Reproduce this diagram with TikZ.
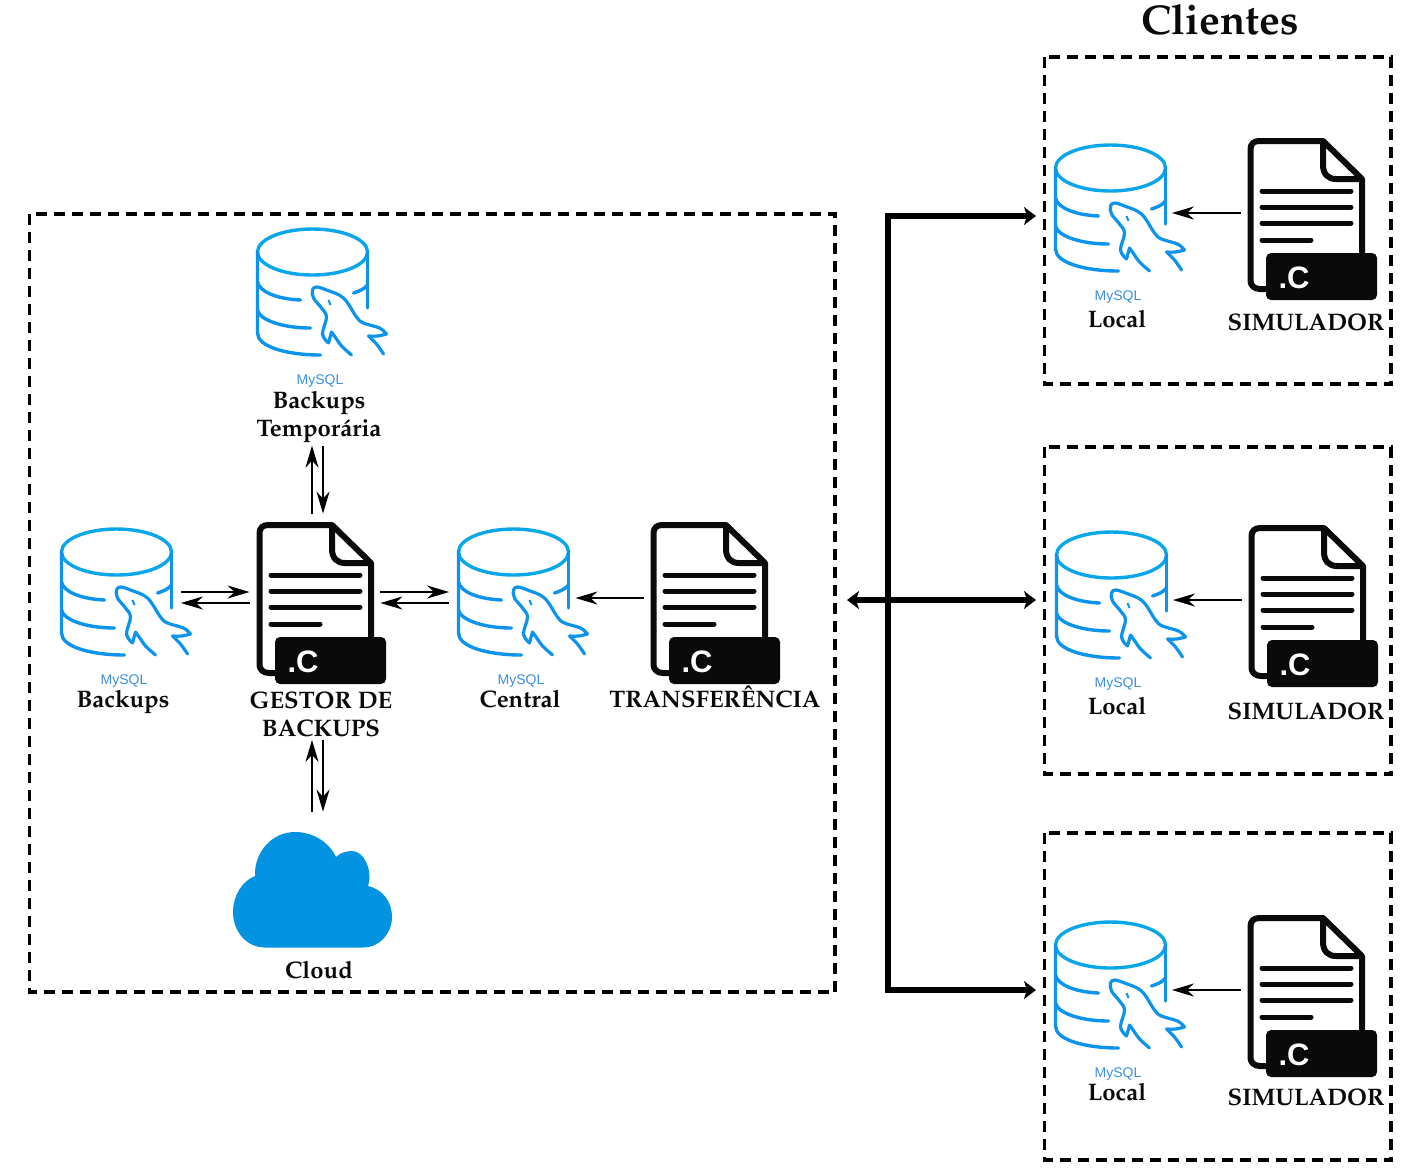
\documentclass[tikz,border=0pt]{standalone}
\usepackage{fontspec}
\usepackage[T1,TU]{fontenc}
\usetikzlibrary{arrows.meta}
\newfontfamily\iconfont{Liberation Sans}
\newcommand{\labelfont}{\fontencoding{T1}\fontfamily{ppl}\fontseries{b}\selectfont}
\definecolor{dbblue}{HTML}{0C93EC}
\definecolor{dbcyan}{HTML}{0AA6EA}
\definecolor{sqlblue}{HTML}{3A8FE0}
\definecolor{cloudblue}{HTML}{0393E1}
\definecolor{docblack}{HTML}{0A0A0A}

\tikzset{
	groupbox/.style={draw=black, line width=1.6pt, dash pattern=on 5.5pt off 3.5pt},
	iconbox/.style={inner sep=0pt, minimum width=64pt, minimum height=64pt},
	docbox/.style={inner sep=0pt, minimum width=65pt, minimum height=86pt},
	caption/.style={font=\labelfont\fontsize{11.95}{14}\selectfont, align=center, inner sep=1.5pt, text=docblack},
	sqltag/.style={font=\iconfont\fontsize{7}{8}\selectfont, text=sqlblue, inner sep=0pt},
	flowarrow/.style={draw=black, line width=1pt, -{Stealth[length=11pt, width=6.5pt, inset=3.5pt]}},
	busarrow/.style={draw=black, line width=3.2pt, {Stealth[length=6pt, width=9pt, inset=1.5pt]}-{Stealth[length=6pt, width=9pt, inset=1.5pt]}},
	mysql/.pic={
		\draw[dbcyan, line width=1.7pt] (0,-40) ellipse (55 and 23);
		\draw[dbblue, line width=1.7pt, line cap=round] (-55,-40) -- (-55,41) .. controls (-55,55) and (-25,63) .. (8,63);
		\draw[dbblue, line width=1.7pt, line cap=round] (55,-40) -- (55,16);
		\draw[dbblue, line width=1.7pt, line cap=round] (-55,-10) .. controls (-53,0) and (-35,7) .. (-12,8);
		\draw[dbblue, line width=1.7pt, line cap=round] (-55,18) .. controls (-53,28) and (-30,36) .. (-2,36);
		\draw[dbblue, line width=1.7pt, line cap=round] (41,1) .. controls (47,-1) and (52,-3) .. (55,-7);
		%Delfim
		\draw[dbblue, line width=1.6pt, line cap=round, line join=round]
			plot[smooth, tension=0.6] coordinates {(39,63) (29,54) (24,47) (19,40)}
			plot[smooth, tension=0.6] coordinates {(19,40) (16,51)}
			plot[smooth, tension=0.6] coordinates {(16,51) (10,42) (14,25) (9,16) (1,6) (0,-2) (4,-5) (14,-2) (31,6) (44,25) (51,31) (67,36) (74,42)}
			plot[smooth, tension=0.6] coordinates {(74,42) (65,44) (56,44)}
			plot[smooth, tension=0.6] coordinates {(56,44) (64,52) (71,62)};
		\draw[dbblue, line width=1pt] (16,8) -- (18,13);
	},
	cfile/.pic={
		\draw[docblack, line width=3pt, line join=round] (-40,73) -- (-46,73) .. controls (-52,73) and (-55.5,69) .. (-55.5,65) -- (-55.5,-67) .. controls (-55.5,-72) and (-52,-75) .. (-47,-75) -- (17,-75) -- (56,-37) -- (56,40);
		\draw[docblack, line width=3pt, line join=round] (17,-75) -- (17,-51) .. controls (17,-42) and (22,-37) .. (30,-37) -- (56,-37);
		\foreach \liney/\lineend in {-25/45, -9/45, 7/45, 24/5}
			\draw[docblack, line width=2.5pt, line cap=round] (-44,\liney) -- (\lineend,\liney);
		\fill[docblack, rounded corners=2.5pt] (-40,37) rectangle (71,84);
		\node[text=white, inner sep=0pt, font=\iconfont\bfseries\fontsize{15.5}{18}\selectfont] at (-12,61.5) {.C};
	},
}

\begin{document}
\begin{tikzpicture}
	[
	x=0.5pt, y=-0.5pt
	]
	\useasboundingbox (0,0) rectangle (1417,1169);

	%Caixa do servidor
	\draw[groupbox] (29.5,214) rectangle (835,992);

	%Bases de dados do servidor
	\node[iconbox] (temp) at (312.5,292) {};
	\pic at (temp) {mysql};
	\node[iconbox] (backups) at (116.5,592) {};
	\pic at (backups) {mysql};
	\node[iconbox] (central) at (513.5,592) {};
	\pic at (central) {mysql};

	%Programas do servidor
	\node[docbox] (gestor) at (315,600) {};
	\pic at (gestor) {cfile};
	\node[docbox] (transf) at (709,600) {};
	\pic at (transf) {cfile};

	%Cloud
	\node[inner sep=0pt, minimum width=80pt, minimum height=78pt] (cloud) at (312,890) {};
	\fill[cloudblue] (265,947.5) -- (363,947.5) .. controls (380,947.5) and (392,933) .. (392,917)
		.. controls (392,901) and (382,889) .. (368,886)
		.. controls (373,870) and (364,851) .. (352,851)
		.. controls (346,851) and (340,853) .. (336,857)
		.. controls (329,842) and (313,832) .. (295,832)
		.. controls (272,832) and (254,852) .. (255,876)
		.. controls (242,881) and (233,896) .. (233,912)
		.. controls (233,932) and (247,947.5) .. (265,947.5) -- cycle;

	%Texto do servidor
	\node[sqltag] (tagtemp) at (320,381) {MySQL};
	\node[caption] (labeltemp) at (319,416.5) {Backups\\Temporária};
	\node[sqltag] (tagbackups) at (124,681) {MySQL};
	\node[caption] (labelbackups) at (123,702) {Backups};
	\node[caption] (labelgestor) at (321,714) {GESTOR DE\\BACKUPS};
	\node[sqltag] (tagcentral) at (521,681) {MySQL};
	\node[caption] (labelcentral) at (520,699) {Central};
	\node[caption] (labeltransf) at (715,696.5) {TRANSFERÊNCIA};
	\node[caption] (labelcloud) at (319,970) {Cloud};

	%Setas do servidor
	\draw[flowarrow] (backups.east) -- ([yshift=4pt]gestor.west);
	\draw[flowarrow] ([yshift=-1.5pt]gestor.west) -- ([yshift=-5.5pt]backups.east);
	\draw[flowarrow] ([yshift=4pt]gestor.east) -- (central.west);
	\draw[flowarrow] ([yshift=-5.5pt]central.west) -- ([yshift=-1.5pt]gestor.east);
	\draw[flowarrow] ([yshift=1pt]transf.west) -- ([xshift=-1.25pt,yshift=-3pt]central.east);
	\draw[flowarrow] ([xshift=-1.5pt]gestor.north) -- ([xshift=-3.5pt]labeltemp.south);
	\draw[flowarrow] ([xshift=2pt]labeltemp.south) -- ([xshift=4pt]gestor.north);
	\draw[flowarrow] (cloud.north) -- ([xshift=-4.5pt]labelgestor.south);
	\draw[flowarrow] ([xshift=1pt]labelgestor.south) -- ([xshift=5.5pt]cloud.north);

	%Clientes
	\node[font=\labelfont\fontsize{20.8}{24}\selectfont, text=docblack, inner sep=0pt] (clientes) at (1220,20) {Clientes};
	\foreach \n/\boxtop/\dbx/\dby/\docx/\docy/\tagy/\localy/\simy in {
		a/57/1110.5/208/1306/216/297/319/322,
		b/447/1111.5/595/1307/603/684/706/711,
		c/833/1110.5/985/1306/993/1074/1092/1097}
	{
		\draw[groupbox] (1044.5,\boxtop) rectangle ++(346.5,327);
		\node[iconbox] (local\n) at (\dbx,\dby) {};
		\pic at (local\n) {mysql};
		\node[docbox] (sim\n) at (\docx,\docy) {};
		\pic at (sim\n) {cfile};
		\node[sqltag] (tag\n) at (1118,\tagy) {MySQL};
		\node[caption] (labellocal\n) at (1117,\localy) {Local};
		\node[caption] (labelsim\n) at (1306,\simy) {SIMULADOR};
		\draw[flowarrow] ([yshift=1.5pt]sim\n.west) -- ([xshift=-1.5pt,yshift=-2.5pt]local\n.east);
	}

	%Ligacoes entre servidor e clientes
	\coordinate (buscorner) at (888,216);
	\coordinate (busend) at (888,990);
	\coordinate (busleft) at (847,600);
	\coordinate (busright) at (1036,600);
	\coordinate (busa) at (1036,216);
	\coordinate (busc) at (1036,990);
	\draw[busarrow] (busa) -- (buscorner) -- (busend) -- (busc);
	\draw[busarrow] (busleft) -- (busright);
\end{tikzpicture}
\end{document}
